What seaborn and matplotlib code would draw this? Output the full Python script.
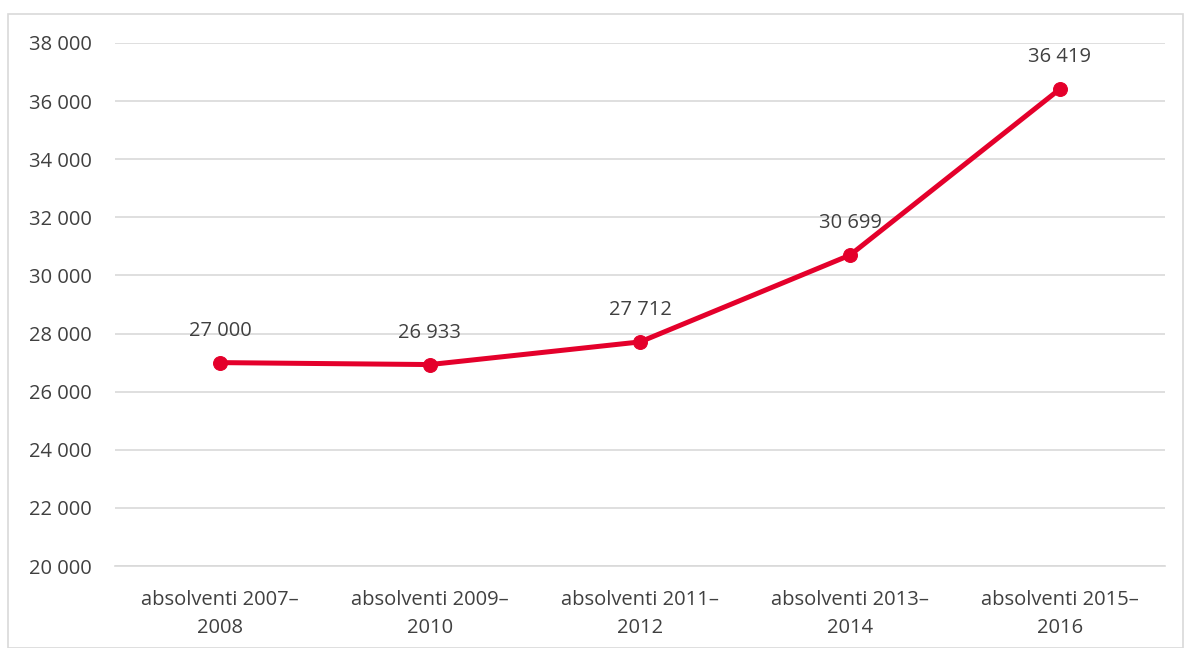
import matplotlib
matplotlib.use("Agg")
import matplotlib.pyplot as plt
import seaborn as sns
import pandas as pd
from matplotlib.patches import Rectangle
from matplotlib.ticker import FuncFormatter

# data
categories = ["absolventi 2007–\n2008", "absolventi 2009–\n2010", "absolventi 2011–\n2012",
              "absolventi 2013–\n2014", "absolventi 2015–\n2016"]
values = [27000, 26933, 27712, 30699, 36419]
labels = ["27 000", "26 933", "27 712", "30 699", "36 419"]
y_ticks = [20000, 22000, 24000, 26000, 28000, 30000, 32000, 34000, 36000, 38000]

sns.set_style("white")
plt.rcParams['font.family'] = ['Open Sans', 'DejaVu Sans']

RED = "#E4002B"
TXT = "#404040"
GRID = "#D9D9D9"
FS = 14.5

df = pd.DataFrame({"cat": range(len(categories)), "val": values})

fig = plt.figure(figsize=(11.84, 6.48), dpi=100)
fig.patches.append(Rectangle((8 / 1184, 0), 1 - 8 / 1184 - 0.001, 1 - 14 / 648,
                             transform=fig.transFigure, fill=False,
                             edgecolor=GRID, linewidth=1.2))
ax = fig.add_axes([115 / 1184, 1 - 566 / 648, 1050 / 1184, (566 - 43) / 648])

sns.lineplot(data=df, x="cat", y="val", ax=ax, color=RED, linewidth=3.6,
             marker="o", markersize=10, markeredgecolor=RED, zorder=3)

for i, (v, t) in enumerate(zip(values, labels)):
    ax.annotate(t, (i, v), xytext=(0, 23), textcoords="offset points",
                ha="center", va="center", fontsize=FS, color=TXT)

ax.set_xlim(-0.5, len(categories) - 0.5)
ax.set_ylim(20000, 38000)
ax.set_yticks(y_ticks)
ax.yaxis.set_major_formatter(FuncFormatter(lambda v, p: f"{int(v):,}".replace(",", " ")))
ax.set_xticks(range(len(categories)))
ax.set_xticklabels(categories, linespacing=1.55)
ax.tick_params(axis="both", length=0, labelsize=FS, labelcolor=TXT)
ax.tick_params(axis="y", pad=17)
ax.tick_params(axis="x", pad=17)
ax.grid(axis="y", color=GRID, linewidth=1.2)
ax.set_axisbelow(True)
for s in ["top", "right", "left"]:
    ax.spines[s].set_visible(False)
ax.spines["bottom"].set_color(GRID)
ax.spines["bottom"].set_linewidth(1.2)
ax.set_xlabel("")
ax.set_ylabel("")

fig.savefig("out.png", dpi=100)
